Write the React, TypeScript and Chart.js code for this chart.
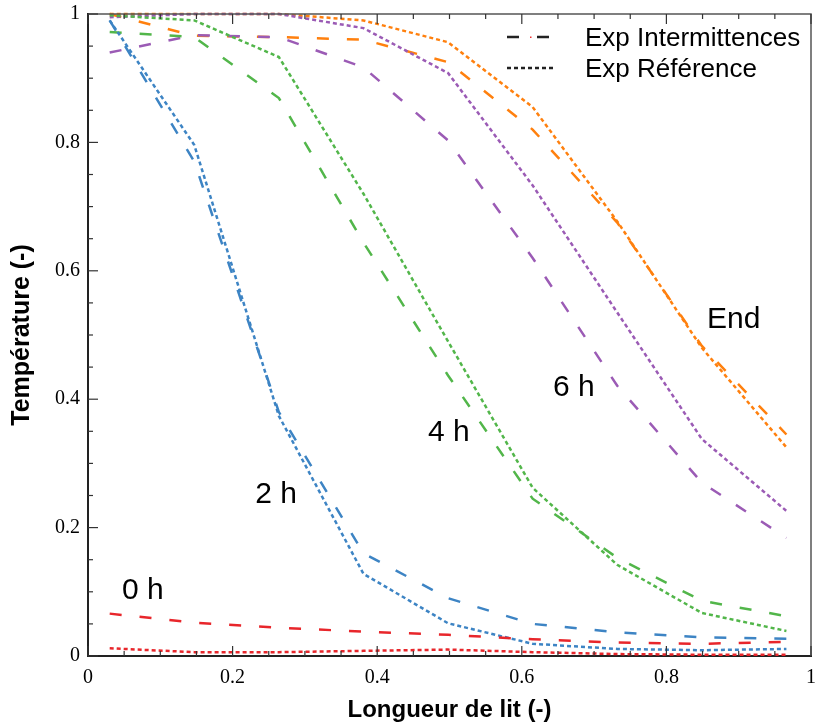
import React, { useEffect, useRef } from 'react';
import { Chart, registerables } from 'chart.js';
Chart.register(...registerables);

// Bed length positions (-)
const bedLength = [0.03, 0.147, 0.264, 0.381, 0.498, 0.615, 0.732, 0.849, 0.966];

// Temperature (-) — "Exp Intermittences" (dashed) and "Exp Référence" (dotted)
const interm0h = [0.066, 0.052, 0.044, 0.038, 0.033, 0.026, 0.021, 0.019, 0.022];
const ref0h = [0.012, 0.006, 0.006, 0.008, 0.010, 0.006, 0.003, 0.002, 0.002];
const interm2h = [0.99, 0.77, 0.38, 0.16, 0.09, 0.05, 0.037, 0.029, 0.027];
const ref2h = [0.99, 0.796, 0.374, 0.128, 0.051, 0.019, 0.011, 0.009, 0.011];
const interm4h = [0.972, 0.964, 0.869, 0.644, 0.437, 0.245, 0.153, 0.086, 0.062];
const ref4h = [0.998, 0.99, 0.933, 0.72, 0.49, 0.262, 0.142, 0.067, 0.039];
const interm6h = [0.94, 0.967, 0.964, 0.917, 0.803, 0.62, 0.421, 0.27, 0.184];
const ref6h = [0.995, 1.0, 1.0, 0.978, 0.908, 0.733, 0.535, 0.338, 0.226];
const intermEnd = [1.0, 0.966, 0.964, 0.96, 0.925, 0.82, 0.675, 0.483, 0.345];
const refEnd = [1.0, 1.0, 1.0, 0.99, 0.956, 0.855, 0.677, 0.48, 0.325];

const axisTicks = [0, 0.2, 0.4, 0.6, 0.8, 1];
const minorTicks = [0.05, 0.1, 0.15, 0.25, 0.3, 0.35, 0.45, 0.5, 0.55, 0.65, 0.7, 0.75, 0.85, 0.9, 0.95];

const curveLabels = ['0 h', '2 h', '4 h', '6 h', 'End'];
const labelX = [0.076, 0.26, 0.499, 0.672, 0.893];
const labelY = [0.101, 0.251, 0.348, 0.418, 0.523];

const legendLabels = ['Exp Intermittences', 'Exp Référence'];

const COLORS = {
  red: '#e8262b',
  blue: '#3d84c4',
  green: '#52b64a',
  purple: '#9b5bb5',
  orange: '#ff800e',
};

const DASHED = [12, 18];
const DOTTED = [4, 3];

function series(ys: number[]) {
  return ys.map((y, i) => ({ x: bedLength[i], y }));
}

function ds(label: string, ys: number[], color: string, dash: number[]) {
  return {
    label,
    data: series(ys),
    borderColor: color,
    backgroundColor: color,
    borderWidth: 2.5,
    borderDash: dash,
    pointRadius: 0,
    tension: 0,
    fill: false,
    clip: 6,
  };
}

const decorPlugin = {
  id: 'decor',
  afterDraw(chart: any) {
    const ctx = chart.ctx as CanvasRenderingContext2D;
    const { left, right, top, bottom } = chart.chartArea;
    const xs = chart.scales.x;
    const ys = chart.scales.y;
    ctx.save();
    // top & right frame
    ctx.strokeStyle = '#555';
    ctx.lineWidth = 1.5;
    ctx.beginPath();
    ctx.moveTo(left, top);
    ctx.lineTo(right, top);
    ctx.lineTo(right, bottom);
    ctx.stroke();

    // inner ticks
    ctx.strokeStyle = '#333';
    ctx.lineWidth = 1.2;
    const drawX = (v: number, len: number) => {
      const px = xs.getPixelForValue(v);
      ctx.beginPath();
      ctx.moveTo(px, bottom);
      ctx.lineTo(px, bottom - len);
      ctx.moveTo(px, top);
      ctx.lineTo(px, top + len);
      ctx.stroke();
    };
    const drawY = (v: number, len: number) => {
      const py = ys.getPixelForValue(v);
      ctx.beginPath();
      ctx.moveTo(left, py);
      ctx.lineTo(left + len, py);
      ctx.stroke();
    };
    axisTicks.forEach((v) => { drawX(v, 10); drawY(v, 10); });
    minorTicks.forEach((v) => { drawX(v, 5); drawY(v, 5); });

    // legend
    const lx = 507;
    const ly1 = 37;
    const ly2 = 68;
    ctx.strokeStyle = '#222';
    ctx.lineWidth = 2.5;
    ctx.setLineDash([]);
    ctx.beginPath();
    ctx.moveTo(lx, ly1); ctx.lineTo(lx + 12, ly1);
    ctx.moveTo(lx + 30, ly1); ctx.lineTo(lx + 42, ly1);
    ctx.stroke();
    ctx.fillStyle = '#e33';
    ctx.fillRect(lx + 23, ly1 - 0.5, 1.5, 1.5);
    ctx.setLineDash([4, 3]);
    ctx.beginPath();
    ctx.moveTo(lx, ly2); ctx.lineTo(lx + 48, ly2);
    ctx.stroke();
    ctx.setLineDash([]);
    ctx.fillStyle = '#000';
    ctx.font = '26px "Liberation Sans", Arial, sans-serif';
    ctx.textBaseline = 'alphabetic';
    ctx.textAlign = 'left';
    ctx.fillText(legendLabels[0], 585, 46);
    ctx.fillText(legendLabels[1], 585, 77);

    // curve labels
    ctx.font = '30px "Liberation Sans", Arial, sans-serif';
    ctx.textAlign = 'center';
    ctx.textBaseline = 'middle';
    curveLabels.forEach((t, i) => {
      ctx.fillText(t, xs.getPixelForValue(labelX[i]), ys.getPixelForValue(labelY[i]));
    });
    ctx.restore();
  },
};

const tickFont = { family: '"Liberation Serif", "Times New Roman", serif', size: 20 };

export default function App() {
  const ref = useRef<HTMLCanvasElement | null>(null);
  useEffect(() => {
    if (!ref.current) return;
    const chart = new Chart(ref.current, {
      type: 'line',
      data: {
        datasets: [
          ds('Int 0 h', interm0h, COLORS.red, DASHED),
          ds('Ref 0 h', ref0h, COLORS.red, DOTTED),
          ds('Int 2 h', interm2h, COLORS.blue, DASHED),
          ds('Ref 2 h', ref2h, COLORS.blue, DOTTED),
          ds('Int 4 h', interm4h, COLORS.green, DASHED),
          ds('Ref 4 h', ref4h, COLORS.green, DOTTED),
          ds('Int 6 h', interm6h, COLORS.purple, DASHED),
          ds('Ref 6 h', ref6h, COLORS.purple, DOTTED),
          ds('Int End', intermEnd, COLORS.orange, DASHED),
          ds('Ref End', refEnd, COLORS.orange, DOTTED),
        ] as any,
      },
      options: {
        animation: false,
        responsive: false,
        devicePixelRatio: 1,
        layout: { padding: { left: 0, right: 5, top: 14, bottom: 0 } },
        plugins: { legend: { display: false }, tooltip: { enabled: false } },
        scales: {
          x: {
            type: 'linear',
            min: 0,
            max: 1,
            afterBuildTicks: (s: any) => { s.ticks = axisTicks.map((v) => ({ value: v })); },
            afterFit: (s: any) => { s.height = 69; s.paddingLeft = 0; s.paddingRight = 0; },
            ticks: {
              color: '#000',
              padding: 10,
              font: tickFont,
              callback: (v: any) => String(v),
            },
            grid: { display: false, drawTicks: false },
            border: { display: true, color: '#222', width: 2 },
            title: {
              display: true,
              text: 'Longueur de lit (-)',
              color: '#000',
              font: { family: '"Liberation Sans", Arial, sans-serif', size: 24, weight: 'bold' },
              padding: { top: 0, bottom: 0 },
            },
          },
          y: {
            type: 'linear',
            min: 0,
            max: 1,
            afterBuildTicks: (s: any) => { s.ticks = axisTicks.map((v) => ({ value: v })); },
            afterFit: (s: any) => { s.width = 88; s.paddingTop = 0; s.paddingBottom = 0; },
            ticks: {
              color: '#000',
              padding: 8,
              font: tickFont,
              callback: (v: any) => String(v),
            },
            grid: { display: false, drawTicks: false },
            border: { display: true, color: '#222', width: 2 },
            title: {
              display: true,
              text: 'Température (-)',
              color: '#000',
              font: { family: '"Liberation Sans", Arial, sans-serif', size: 25, weight: 'bold' },
              padding: { top: 7, bottom: 0 },
            },
          },
        },
      } as any,
      plugins: [decorPlugin],
    });
    return () => chart.destroy();
  }, []);
  return (
    <div style={{ position: 'fixed', left: 0, top: 0, width: 816, height: 725, background: '#fff' }}>
      <canvas ref={ref} width={816} height={725} style={{ width: 816, height: 725, display: 'block' }} />
    </div>
  );
}
